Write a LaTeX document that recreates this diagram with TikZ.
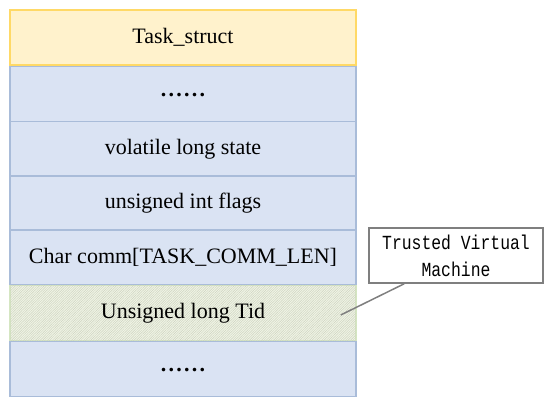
\documentclass[tikz,border=0pt]{standalone}
\usepackage{fontspec}
\setmainfont{Liberation Serif}
\newfontfamily\monof{Liberation Mono}
\usetikzlibrary{patterns.meta}
\definecolor{ylwfill}{HTML}{FFF2CC}
\definecolor{ylwdraw}{HTML}{FFD966}
\definecolor{bluefill}{HTML}{DAE3F3}
\definecolor{bluedraw}{HTML}{A9BCD9}
\definecolor{grnfill}{HTML}{F0F4E6}
\definecolor{grnline}{HTML}{CDD3BF}
\definecolor{grndraw}{HTML}{D5E6C2}
\definecolor{callgray}{HTML}{7F7F7F}
\newcommand{\sixdots}{\bfseries .\hspace{2.3pt}.\hspace{2.3pt}.\hspace{2.3pt}.\hspace{2.3pt}.\hspace{2.3pt}.}
\newcommand{\tallmono}[1]{\scalebox{1}[1.22]{#1}}
\tikzset{
  rowbox/.style={minimum width=346pt, minimum height=55pt, inner sep=0pt, line width=1.5pt,
    font=\fontsize{22}{24}\selectfont},
  yrowbox/.style={rowbox, draw=ylwdraw, fill=ylwfill},
  browbox/.style={rowbox, draw=bluedraw, fill=bluefill},
  growbox/.style={rowbox, draw=grndraw, fill=grnfill,
    postaction={pattern={Lines[angle=45,distance=1.7pt,line width=0.45pt]}, pattern color=grnline}},
  calloutbox/.style={draw=callgray, fill=white, line width=1.5pt, minimum width=174pt, minimum height=55pt,
    inner sep=0pt, align=center, font=\monof\fontsize{16.4}{27}\selectfont},
  leader/.style={draw=callgray, line width=1.5pt}
}
\begin{document}
\begin{tikzpicture}[x=1pt,y=-1pt]
\useasboundingbox (0,0) rectangle (550,407);
\node[yrowbox] (task) at (183,37.5) {Task\_struct};
\node[browbox] (r1) at (183,94) {\raisebox{-2pt}[0pt][0pt]{\sixdots}};
\node[browbox] (r2) at (183,149) {volatile long state};
\node[browbox] (r3) at (183,203.5) {unsigned int flags};
\node[browbox] (r4) at (183,257.5) {Char comm[TASK\_COMM\_LEN]};
\node[growbox] (tid) at (183,313) {Unsigned long Tid};
\node[browbox] (r6) at (183,369) {\raisebox{-2pt}[0pt][0pt]{\sixdots}};
\node[calloutbox] (tvm) at (456,255.5) {\tallmono{Trusted Virtual}\\\tallmono{Machine}};
\draw[leader] ([xshift=36pt]tvm.south west) -- ([xshift=-16pt,yshift=-2pt]tid.east);
\end{tikzpicture}
\end{document}
